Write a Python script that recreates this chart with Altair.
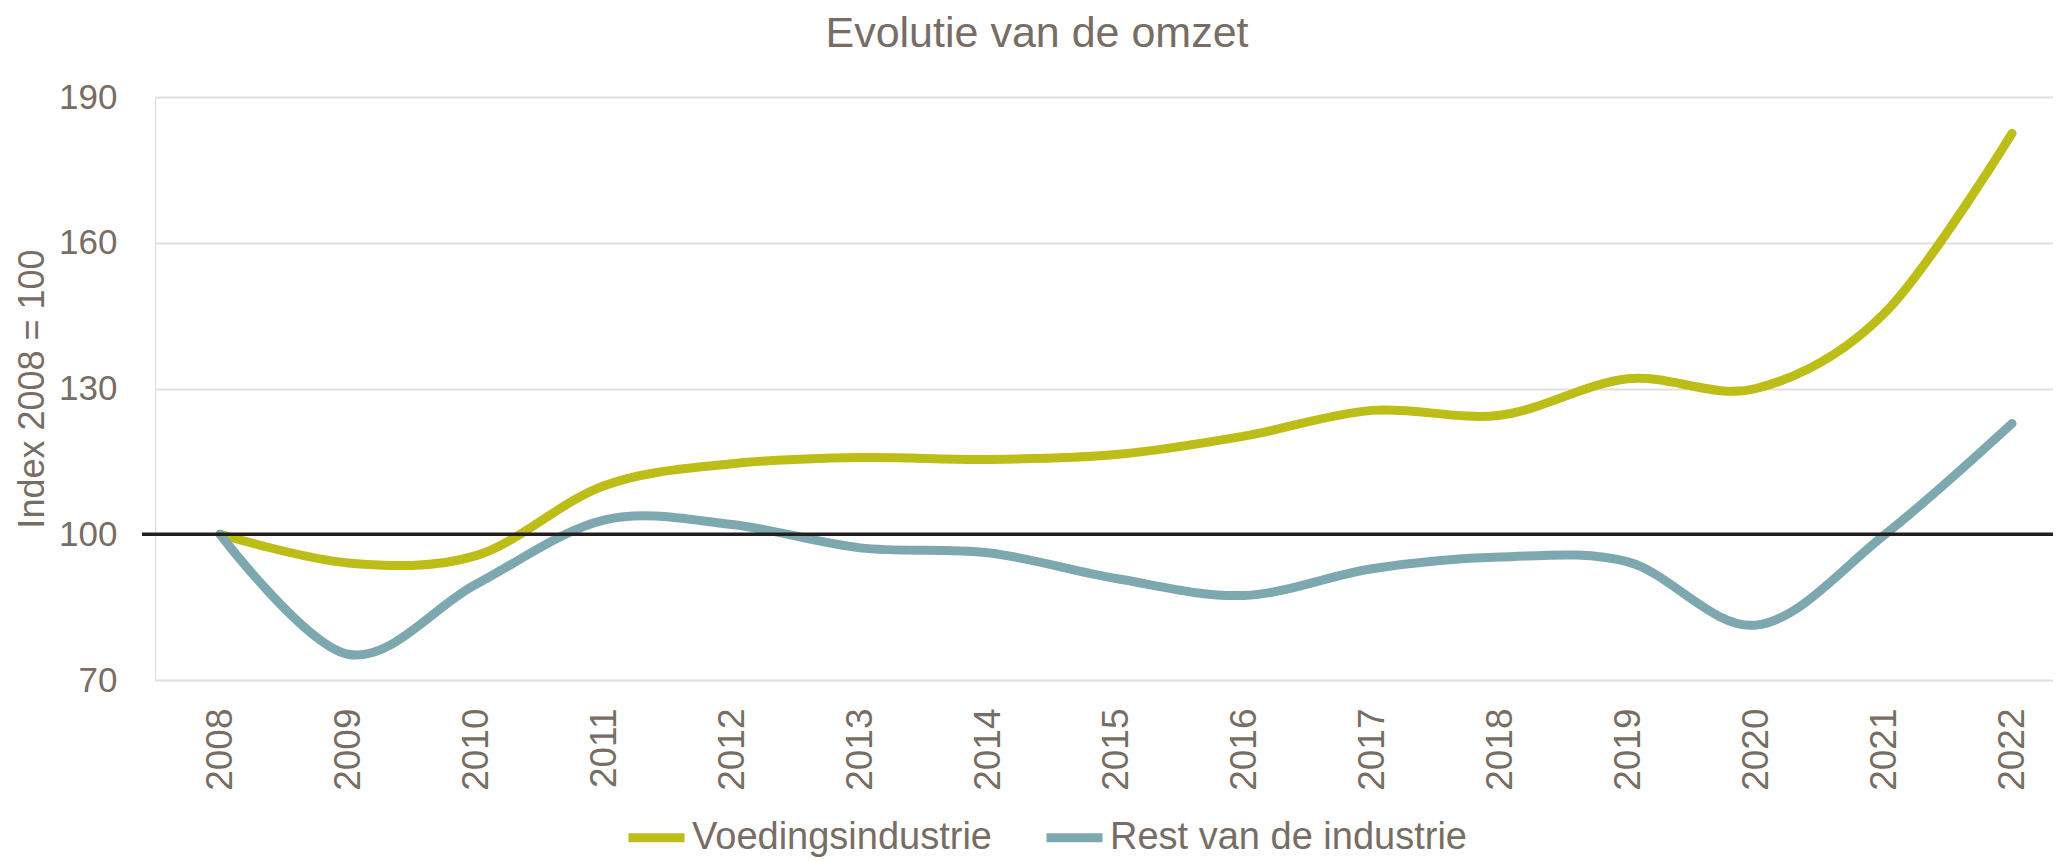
import altair as alt
import pandas as pd

years = list(range(2008, 2023))
voedingsindustrie = [100, 94.1, 95.6, 110.0, 114.5, 115.8, 115.4, 116.4, 120.2, 125.5, 124.5, 132.0, 130.0, 145.4, 182.5]
rest_industrie = [100, 75.3, 89.7, 102.9, 102.0, 97.2, 96.2, 90.9, 87.4, 92.9, 95.3, 94.3, 81.3, 99.8, 122.8]
series_names = ["Voedingsindustrie", "Rest van de industrie"]
series_colors = ["#BDBD17", "#7DA8AF"]
y_ticks = [70, 100, 130, 160, 190]

rows = []
for i, y in enumerate(years):
    rows.append({"jaar": y, "reeks": series_names[0], "index": voedingsindustrie[i], "ord": 0})
for i, y in enumerate(years):
    rows.append({"jaar": y, "reeks": series_names[1], "index": rest_industrie[i], "ord": 1})
df = pd.DataFrame(rows)

FONT = "Liberation Sans"
TXT = "#786D65"
W, H = 1898, 583

x_scale = alt.Scale(domain=[2007.492, 2022.32], nice=False, zero=False)
y_scale = alt.Scale(domain=[70, 190], nice=False, zero=False)

lines = alt.Chart(df).mark_line(strokeWidth=9, strokeCap="round", interpolate="cardinal").encode(
    x=alt.X("jaar:Q", scale=x_scale,
            axis=alt.Axis(values=years, format="d", labelAngle=270, labelPadding=28,
                          labelFontSize=37, labelColor=TXT, labelFont=FONT,
                          ticks=False, domain=False, grid=False, title=None)),
    y=alt.Y("index:Q", scale=y_scale,
            axis=alt.Axis(values=y_ticks, labelFontSize=35, labelColor=TXT, labelFont=FONT,
                          labelPadding=38, ticks=False, domain=False, grid=True,
                          gridColor="#E1DFDD", gridWidth=2,
                          title="Index 2008 = 100", titleFont=FONT, titleFontSize=36,
                          titleFontWeight="normal", titleColor=TXT, titleAngle=270,
                          titleX=-112, titleY=H / 2, titleAlign="center",
                          titleBaseline="alphabetic")),
    color=alt.Color("reeks:N", scale=alt.Scale(domain=series_names, range=series_colors),
                    legend=alt.Legend(title=None, orient="none", direction="horizontal",
                                      legendX=469, legendY=708,
                                      symbolType="stroke", symbolSize=3136,
                                      symbolStrokeWidth=9, labelFont=FONT,
                                      labelFontSize=38, labelColor=TXT, labelOffset=3,
                                      labelLimit=1000, columnPadding=36)),
    order=alt.Order("ord:Q"),
    detail="reeks:N",
)

baseline = alt.Chart(pd.DataFrame({"v": [100]})).mark_rule(color="#231F20", strokeWidth=3.5).encode(
    y=alt.Y("v:Q", scale=y_scale),
    x=alt.value(-13),
    x2=alt.value(W),
)

chart = alt.layer(lines, baseline).properties(
    width=W,
    height=H,
    title=alt.TitleParams("Evolutie van de omzet", font=FONT, fontSize=43,
                          fontWeight="normal", color=TXT, anchor="middle",
                          frame="group", dx=-67, dy=35, offset=25, baseline="alphabetic"),
    autosize=alt.AutoSizeParams(type="none"),
    padding={"left": 147, "top": 89, "right": 0, "bottom": 180},
).configure_view(stroke=None).configure(background="white")

chart.save("out.html", embed_options={"renderer": "svg", "actions": False})
